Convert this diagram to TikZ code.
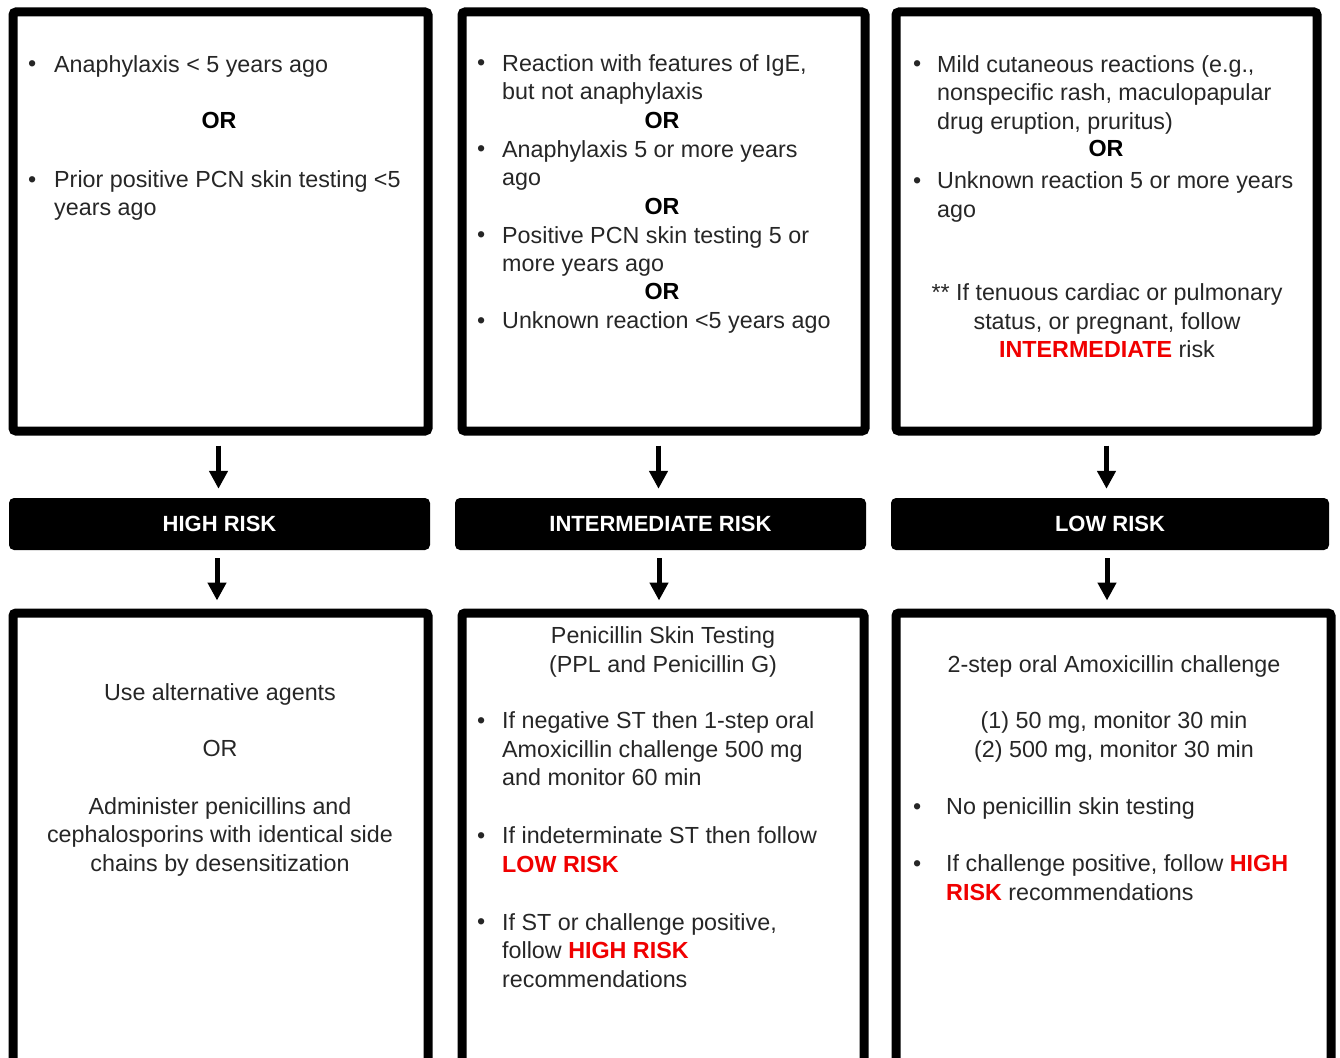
\documentclass[tikz,border=0pt]{standalone}
\usepackage{fontspec}
\setmainfont{Liberation Sans}
\usepackage{xcolor}
\usetikzlibrary{arrows.meta, positioning}
\definecolor{ink}{HTML}{262626}
\definecolor{alertred}{HTML}{F00000}
\newcommand{\redbold}[1]{\textcolor{alertred}{\textbf{#1}}}
\tikzset{
        box/.style={draw=black, line width=9pt, rounded corners=3pt, inner sep=0pt}, % thick framed boxes
        risk/.style={fill=black, rounded corners=5pt, text=white, inner sep=0pt,
                font=\fontsize{22}{26}\selectfont\bfseries}, % black risk bars
        txt/.style={inner sep=0pt, text=ink, align=left, anchor=north west,
                font=\fontsize{23.3}{28.5}\selectfont},
        ctxt/.style={txt, align=center, anchor=north},
        dot/.style={inner sep=0pt, text=ink, anchor=base west, font=\fontsize{23.3}{28.5}\selectfont},
        orword/.style={inner sep=0pt, text=black, font=\fontsize{23.3}{28.5}\selectfont\bfseries},
        flow/.style={line width=5pt, -{Triangle[length=18pt,width=18pt]}},
    }

\begin{document}
\begin{tikzpicture}[x=1pt, y=-1pt]
    \useasboundingbox (0,0) rectangle (1340,1057);
    \clip (0,0) rectangle (1340,1057);

    % history boxes
    \node[box, minimum width=415pt, minimum height=419pt] (topA) at (220.5,221.5) {};
    \node[box, minimum width=403pt, minimum height=419pt] (topB) at (663.5,221.5) {};
    \node[box, minimum width=421pt, minimum height=419pt] (topC) at (1106.5,221.5) {};

    % risk bars
    \node[risk, minimum width=421pt, minimum height=52pt] (riskA) at (219.5,524) {HIGH RISK};
    \node[risk, minimum width=411pt, minimum height=52pt] (riskB) at (660.5,524) {INTERMEDIATE RISK};
    \node[risk, minimum width=438pt, minimum height=52pt] (riskC) at (1110,524) {LOW RISK};

    % management boxes (cut at the bottom)
    \node[box, minimum width=415pt, minimum height=467pt] (mgmtA) at (220.5,846.5) {};
    \node[box, minimum width=402pt, minimum height=467pt] (mgmtB) at (663,846.5) {};
    \node[box, minimum width=435pt, minimum height=467pt] (mgmtC) at (1113.5,846.5) {};

    % arrows
    \draw[flow, shorten <=10pt, shorten >=9pt] ([xshift=-2pt]topA.south) -- ([xshift=-2pt]topA.south |- riskA.north);
    \draw[flow, shorten <=10pt, shorten >=9pt] ([xshift=-5pt]topB.south) -- ([xshift=-5pt]topB.south |- riskB.north);
    \draw[flow, shorten <=10pt, shorten >=9pt] (topC.south) -- (topC.south |- riskC.north);
    \draw[flow, shorten <=8pt, shorten >=8pt] ([xshift=-2.5pt]riskA.south) -- ([xshift=-2.5pt]riskA.south |- mgmtA.north);
    \draw[flow, shorten <=8pt, shorten >=8pt] ([xshift=-1.5pt]riskB.south) -- ([xshift=-1.5pt]riskB.south |- mgmtB.north);
    \draw[flow, shorten <=8pt, shorten >=8pt] ([xshift=-3pt]riskC.south) -- ([xshift=-3pt]riskC.south |- mgmtC.north);

    % high risk history
    \node[dot] (dA1) at (28,71.8) {•};
    \node[txt] (tA1) at (54,55) {Anaphylaxis < 5 years ago};
    \node[orword] (oA) at (219,120) {OR};
    \node[dot] (dA2) at (28,187) {•};
    \node[txt] (tA2) at (54,170) {Prior positive PCN skin testing <5\\years ago};

    % intermediate risk history
    \node[dot] (dB1) at (477,70.8) {•};
    \node[txt] (tB1) at (502,54) {Reaction with features of IgE,\\but not anaphylaxis};
    \node[orword] (oB1) at (662,120) {OR};
    \node[dot] (dB2) at (477,156.8) {•};
    \node[txt] (tB2) at (502,140) {Anaphylaxis 5 or more years\\ago};
    \node[orword] (oB2) at (662,206) {OR};
    \node[dot] (dB3) at (477,242.8) {•};
    \node[txt] (tB3) at (502,226) {Positive PCN skin testing 5 or\\more years ago};
    \node[orword] (oB3) at (662,291) {OR};
    \node[dot] (dB4) at (477,328.3) {•};
    \node[txt] (tB4) at (502,311.5) {Unknown reaction <5 years ago};

    % low risk history
    \node[dot] (dC1) at (913,71.8) {•};
    \node[txt] (tC1) at (937,55) {Mild cutaneous reactions (e.g.,\\nonspecific rash, maculopapular\\drug eruption, pruritus)};
    \node[orword] (oC) at (1106,148.5) {OR};
    \node[dot] (dC2) at (913,188.3) {•};
    \node[txt] (tC2) at (937,171.5) {Unknown reaction 5 or more years\\ago};
    \node[ctxt] (nC) at (1107,283.5) {** If tenuous cardiac or pulmonary\\status, or pregnant, follow\\\redbold{INTERMEDIATE} risk};

    % high risk management
    \node[ctxt] (uA1) at (220,683) {Use alternative agents};
    \node[ctxt, anchor=center] (uA2) at (220,748.5) {OR};
    \node[ctxt] (uA3) at (220,797) {Administer penicillins and\\cephalosporins with identical side\\chains by desensitization};

    % intermediate risk management
    \node[ctxt] (hB) at (663,626.5) {Penicillin Skin Testing\\(PPL and Penicillin G)};
    \node[dot] (dB5) at (477,728.3) {•};
    \node[txt] (tB5) at (502,711.5) {If negative ST then 1-step oral\\Amoxicillin challenge 500 mg\\and monitor 60 min};
    \node[dot] (dB6) at (477,843.3) {•};
    \node[txt] (tB6) at (502,826.5) {If indeterminate ST then follow\\\redbold{LOW RISK}};
    \node[dot] (dB7) at (477,929.8) {•};
    \node[txt] (tB7) at (502,913) {If ST or challenge positive,\\follow \redbold{HIGH RISK}\\recommendations};

    % low risk management
    \node[ctxt] (hC) at (1114,655) {2-step oral Amoxicillin challenge};
    \node[ctxt] (sC) at (1114,711.5) {(1) 50 mg, monitor 30 min\\(2) 500 mg, monitor 30 min};
    \node[dot] (dC3) at (913,814.3) {•};
    \node[txt] (tC3) at (946,797.5) {No penicillin skin testing};
    \node[dot] (dC4) at (913,871.3) {•};
    \node[txt] (tC4) at (946,854.5) {If challenge positive, follow \redbold{HIGH}\\\redbold{RISK} recommendations};
\end{tikzpicture}
\end{document}
